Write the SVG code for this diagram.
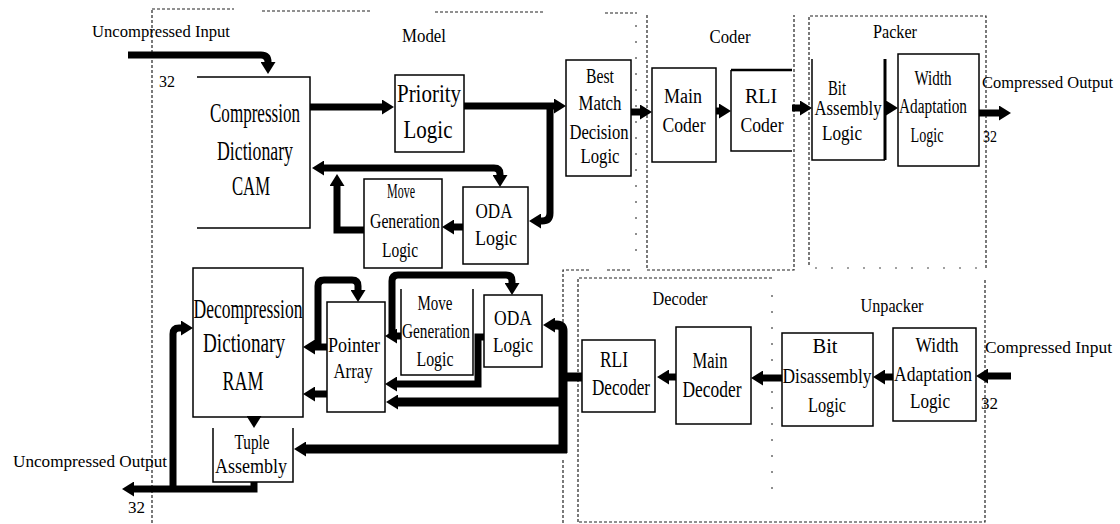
<svg xmlns="http://www.w3.org/2000/svg" width="1120" height="524" viewBox="0 0 1120 524">
<style>
text{font-family:"Liberation Serif","Times New Roman",serif;fill:#000;}
.c{text-anchor:middle;}
.box{fill:none;stroke:#000;stroke-width:1.5;}
.dash{fill:none;stroke:#222;stroke-width:1.2;stroke-dasharray:3,2;}
.dot{fill:none;stroke:#444;stroke-width:1.2;stroke-dasharray:2,14;}
.w{fill:none;stroke:#000;stroke-width:7;}
.w9{fill:none;stroke:#000;stroke-width:9;}
</style>
<defs>
<marker id="ah" viewBox="0 0 12 15" markerWidth="12" markerHeight="15" refX="4" refY="7.5" orient="auto-start-reverse" markerUnits="userSpaceOnUse">
<path d="M0,0 L12,7.5 L0,15 z" fill="#000"/>
</marker>
</defs>
<rect width="1120" height="524" fill="#fff"/>
<g id="boundaries">
<path class="dash" d="M152,10 V524 M152,9 H234 M262,11 H372 M435,12 H543 M605,13 H637"/>
<path class="dot" d="M636,25 V262"/>
<path class="dash" d="M647,15 V270 H794 V15"/>
<path class="dash" d="M809,265 V16 H986 V270"/>
<path class="dot" d="M815,268 H986"/>
<path class="dash" d="M563,322 V270 H590 M607,270 H632 M563,460 V524"/>
<path class="dash" d="M578,522 V278 H773 M985,280 V522 H578"/>
<path class="dot" d="M772,295 V500"/>
<text class="c" x="424" y="42" font-size="19" textLength="44" lengthAdjust="spacingAndGlyphs">Model</text>
<text class="c" x="730" y="43" font-size="19" textLength="41" lengthAdjust="spacingAndGlyphs">Coder</text>
<text class="c" x="895" y="38" font-size="19" textLength="44" lengthAdjust="spacingAndGlyphs">Packer</text>
<text class="c" x="680" y="305" font-size="19" textLength="55" lengthAdjust="spacingAndGlyphs">Decoder</text>
<text class="c" x="892" y="312" font-size="19" textLength="63" lengthAdjust="spacingAndGlyphs">Unpacker</text>
</g>
<g id="io-labels">
<text x="92" y="37" font-size="17" textLength="138" lengthAdjust="spacingAndGlyphs">Uncompressed Input</text>
<text x="159" y="87" font-size="16" textLength="16" lengthAdjust="spacingAndGlyphs">32</text>
<text x="982" y="88" font-size="17" textLength="131" lengthAdjust="spacingAndGlyphs">Compressed Output</text>
<text x="983" y="142" font-size="16" textLength="14" lengthAdjust="spacingAndGlyphs">32</text>
<text x="985" y="353" font-size="17" textLength="127" lengthAdjust="spacingAndGlyphs">Compressed Input</text>
<text x="981" y="409" font-size="16" textLength="17" lengthAdjust="spacingAndGlyphs">32</text>
<text x="13" y="467" font-size="17" textLength="154" lengthAdjust="spacingAndGlyphs">Uncompressed Output</text>
<text x="128" y="513" font-size="16" textLength="17" lengthAdjust="spacingAndGlyphs">32</text>
</g>
<g id="cam">
<path class="box" d="M197,77 H310 V228 H197"/>
<text class="c" x="255" y="122" font-size="27" textLength="90" lengthAdjust="spacingAndGlyphs">Compression</text>
<text class="c" x="255" y="160" font-size="27" textLength="76" lengthAdjust="spacingAndGlyphs">Dictionary</text>
<text class="c" x="251" y="195" font-size="27" textLength="38" lengthAdjust="spacingAndGlyphs">CAM</text>
</g>
<g id="priority">
<rect class="box" x="395" y="75" width="69" height="77"/>
<text class="c" x="429" y="102" font-size="26" textLength="64" lengthAdjust="spacingAndGlyphs">Priority</text>
<text class="c" x="428" y="138" font-size="26" textLength="49" lengthAdjust="spacingAndGlyphs">Logic</text>
</g>
<g id="bestmatch">
<rect class="box" x="566" y="60" width="65" height="116"/>
<text class="c" x="600" y="83" font-size="20" textLength="28" lengthAdjust="spacingAndGlyphs">Best</text>
<text class="c" x="600" y="110" font-size="20" textLength="43" lengthAdjust="spacingAndGlyphs">Match</text>
<text class="c" x="599" y="139" font-size="20" textLength="59" lengthAdjust="spacingAndGlyphs">Decision</text>
<text class="c" x="600" y="163" font-size="20" textLength="39" lengthAdjust="spacingAndGlyphs">Logic</text>
</g>
<g id="movegen-top">
<rect class="box" x="364" y="179" width="78" height="89"/>
<text class="c" x="401" y="198" font-size="21" textLength="28" lengthAdjust="spacingAndGlyphs">Move</text>
<text class="c" x="405" y="228" font-size="21" textLength="70" lengthAdjust="spacingAndGlyphs">Generation</text>
<text class="c" x="400" y="257" font-size="21" textLength="36" lengthAdjust="spacingAndGlyphs">Logic</text>
</g>
<g id="oda-top">
<rect class="box" x="463" y="187" width="65" height="77"/>
<text class="c" x="494" y="218" font-size="22" textLength="37" lengthAdjust="spacingAndGlyphs">ODA</text>
<text class="c" x="496" y="245" font-size="22" textLength="42" lengthAdjust="spacingAndGlyphs">Logic</text>
</g>
<g id="main-coder">
<rect class="box" x="652" y="68" width="64" height="94"/>
<text class="c" x="683" y="103" font-size="20" textLength="38" lengthAdjust="spacingAndGlyphs">Main</text>
<text class="c" x="684" y="132" font-size="20" textLength="43" lengthAdjust="spacingAndGlyphs">Coder</text>
</g>
<g id="rli-coder">
<path class="box" d="M792,151 H731 V70"/>
<path d="M731,70 H792" stroke="#000" stroke-width="2.5"/>
<text class="c" x="761" y="103" font-size="20" textLength="32" lengthAdjust="spacingAndGlyphs">RLI</text>
<text class="c" x="762" y="132" font-size="20" textLength="43" lengthAdjust="spacingAndGlyphs">Coder</text>
</g>
<g id="bit-assembly">
<path class="box" d="M812,59 V160 H885"/>
<path d="M885,59 V160" stroke="#000" stroke-width="3"/>
<text class="c" x="837" y="95" font-size="20" textLength="18" lengthAdjust="spacingAndGlyphs">Bit</text>
<text class="c" x="848" y="115" font-size="20" textLength="67" lengthAdjust="spacingAndGlyphs">Assembly</text>
<text class="c" x="842" y="140" font-size="20" textLength="40" lengthAdjust="spacingAndGlyphs">Logic</text>
</g>
<g id="width-packer">
<rect class="box" x="898" y="54" width="81" height="112"/>
<text class="c" x="933" y="85" font-size="20" textLength="37" lengthAdjust="spacingAndGlyphs">Width</text>
<text class="c" x="933" y="113" font-size="20" textLength="68" lengthAdjust="spacingAndGlyphs">Adaptation</text>
<text class="c" x="927" y="142" font-size="20" textLength="33" lengthAdjust="spacingAndGlyphs">Logic</text>
</g>
<g id="ram">
<rect class="box" x="193" y="268" width="110" height="149"/>
<text class="c" x="248" y="318" font-size="27" textLength="109" lengthAdjust="spacingAndGlyphs">Decompression</text>
<text class="c" x="244" y="352" font-size="27" textLength="82" lengthAdjust="spacingAndGlyphs">Dictionary</text>
<text class="c" x="243" y="390" font-size="27" textLength="41" lengthAdjust="spacingAndGlyphs">RAM</text>
</g>
<g id="pointer">
<rect class="box" x="327" y="302" width="58" height="110"/>
<text class="c" x="354" y="352" font-size="22" textLength="52" lengthAdjust="spacingAndGlyphs">Pointer</text>
<text class="c" x="353" y="378" font-size="22" textLength="39" lengthAdjust="spacingAndGlyphs">Array</text>
</g>
<g id="movegen-bottom">
<path class="box" d="M401,289 V375 H473 V289"/>
<text class="c" x="435" y="310" font-size="21" textLength="35" lengthAdjust="spacingAndGlyphs">Move</text>
<text class="c" x="436" y="338" font-size="21" textLength="68" lengthAdjust="spacingAndGlyphs">Generation</text>
<text class="c" x="435" y="366" font-size="21" textLength="37" lengthAdjust="spacingAndGlyphs">Logic</text>
</g>
<g id="oda-bottom">
<rect class="box" x="484" y="295" width="58" height="72"/>
<text class="c" x="513" y="325" font-size="22" textLength="38" lengthAdjust="spacingAndGlyphs">ODA</text>
<text class="c" x="513" y="352" font-size="22" textLength="40" lengthAdjust="spacingAndGlyphs">Logic</text>
</g>
<g id="tuple">
<path class="box" d="M213,428 V482 H293 V428"/>
<text class="c" x="252" y="449" font-size="21" textLength="35" lengthAdjust="spacingAndGlyphs">Tuple</text>
<text class="c" x="251" y="473" font-size="21" textLength="72" lengthAdjust="spacingAndGlyphs">Assembly</text>
</g>
<g id="rli-decoder">
<rect class="box" x="582" y="340" width="73" height="72"/>
<text class="c" x="614" y="367" font-size="24" textLength="28" lengthAdjust="spacingAndGlyphs">RLI</text>
<text class="c" x="621" y="395" font-size="24" textLength="58" lengthAdjust="spacingAndGlyphs">Decoder</text>
</g>
<g id="main-decoder">
<rect class="box" x="676" y="327" width="75" height="97"/>
<text class="c" x="710" y="368" font-size="24" textLength="35" lengthAdjust="spacingAndGlyphs">Main</text>
<text class="c" x="712" y="397" font-size="24" textLength="59" lengthAdjust="spacingAndGlyphs">Decoder</text>
</g>
<g id="bit-disassembly">
<rect class="box" x="782" y="333" width="91" height="93"/>
<text class="c" x="825" y="353" font-size="21" textLength="25" lengthAdjust="spacingAndGlyphs">Bit</text>
<text class="c" x="827" y="383" font-size="21" textLength="89" lengthAdjust="spacingAndGlyphs">Disassembly</text>
<text class="c" x="827" y="412" font-size="21" textLength="38" lengthAdjust="spacingAndGlyphs">Logic</text>
</g>
<g id="width-unpacker">
<rect class="box" x="893" y="328" width="83" height="93"/>
<text class="c" x="937" y="352" font-size="21" textLength="43" lengthAdjust="spacingAndGlyphs">Width</text>
<text class="c" x="933" y="381" font-size="21" textLength="78" lengthAdjust="spacingAndGlyphs">Adaptation</text>
<text class="c" x="930" y="408" font-size="21" textLength="40" lengthAdjust="spacingAndGlyphs">Logic</text>
</g>
<g id="connectors">
<path class="w" d="M128,55 H261 Q268,55 268,62 V66" marker-end="url(#ah)"/>
<path class="w" d="M310,107 H386" marker-end="url(#ah)"/>
<path class="w" d="M464,106 H558" marker-end="url(#ah)"/>
<path class="w" d="M550,106 V213 Q550,221 542,221 H537" marker-end="url(#ah)"/>
<path class="w" d="M500,179 V174 Q500,168 494,168 H320" marker-start="url(#ah)" marker-end="url(#ah)"/>
<path class="w" d="M364,230 H337 V182" marker-end="url(#ah)"/>
<path class="w" d="M463,227 H450" marker-end="url(#ah)"/>
<path class="w" d="M631,112 H644" marker-end="url(#ah)"/>
<path class="w" d="M716,111 H723" marker-end="url(#ah)"/>
<path class="w" d="M792,108 H804" marker-end="url(#ah)"/>
<path class="w" d="M885,108 H890" marker-end="url(#ah)"/>
<path class="w" d="M979,113 H1003" marker-end="url(#ah)"/>
<path class="w" d="M327,347 H311" marker-end="url(#ah)"/>
<path class="w" d="M318,347 V286 Q318,280 324,280 H352 Q358,280 358,286 V294" marker-end="url(#ah)"/>
<path class="w" d="M327,394 H311" marker-end="url(#ah)"/>
<path class="w" d="M401,336 H393" marker-end="url(#ah)"/>
<path class="w" d="M392,336 V281 Q392,275 398,275 H506 Q512,275 512,281 V287" marker-end="url(#ah)"/>
<path class="w" d="M484,337 H478 V384 H393" marker-end="url(#ah)"/>
<path class="w9" d="M563,453 V331 Q563,325 557,325 H551" marker-end="url(#ah)"/>
<path class="w9" d="M582,377 H563"/>
<path class="w9" d="M567,402 H394" marker-end="url(#ah)"/>
<path class="w9" d="M567,449 H302" marker-end="url(#ah)"/>
<path class="w" d="M254,417 V420" marker-end="url(#ah)"/>
<path class="w" d="M254,482 V489 H130" marker-end="url(#ah)"/>
<path class="w" d="M173,489 V334 Q173,328 179,328 H185" marker-end="url(#ah)"/>
<path class="w" d="M676,377 H665" marker-end="url(#ah)"/>
<path class="w" d="M782,378 H759" marker-end="url(#ah)"/>
<path class="w" d="M893,377 H881" marker-end="url(#ah)"/>
<path class="w" d="M1011,376 H984" marker-end="url(#ah)"/>
</g>
</svg>
